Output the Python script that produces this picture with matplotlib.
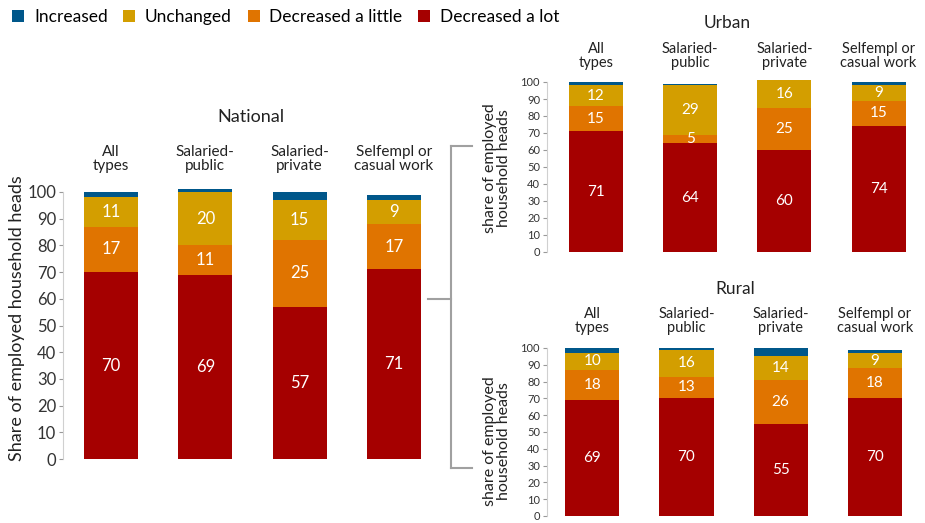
import matplotlib
matplotlib.use("Agg")
import matplotlib.pyplot as plt
from matplotlib.patches import Patch
from matplotlib.lines import Line2D
from matplotlib.transforms import blended_transform_factory
import numpy as np

plt.rcParams['font.family'] = ['Lato', 'DejaVu Sans']

categories = ["All\ntypes", "Salaried-\npublic", "Salaried-\nprivate", "Selfempl or\ncasual work"]
series_names = ["Decreased a lot", "Decreased a little", "Unchanged", "Increased"]
legend_order = ["Increased", "Unchanged", "Decreased a little", "Decreased a lot"]
colors = {
    "Increased": "#00578A",
    "Unchanged": "#D39E00",
    "Decreased a little": "#E07400",
    "Decreased a lot": "#A50000",
}

national = {
    "Decreased a lot": [70, 69, 57, 71],
    "Decreased a little": [17, 11, 25, 17],
    "Unchanged": [11, 20, 15, 9],
    "Increased": [2, 1, 3, 2],
}
urban = {
    "Decreased a lot": [71, 64, 60, 74],
    "Decreased a little": [15, 5, 25, 15],
    "Unchanged": [12, 29, 16, 9],
    "Increased": [2, 1, 0, 2],
}
rural = {
    "Decreased a lot": [69, 70, 55, 70],
    "Decreased a little": [18, 13, 26, 18],
    "Unchanged": [10, 16, 14, 9],
    "Increased": [3, 1, 5, 2],
}

W, H = 925, 523
fig = plt.figure(figsize=(W / 100, H / 100), dpi=100)


def add_ax_px(left, top, width, height):
    return fig.add_axes([left / W, 1 - (top + height) / H, width / W, height / H])


def fy(ypx):
    return 1 - ypx / H


def fx(xpx):
    return xpx / W


def draw_panel(ax, data, xlim, ylim, tick_fs, val_fs, cat_y, cat_fs, title, title_xy, title_fs):
    x = np.arange(len(categories))
    bottom = np.zeros(len(categories))
    for name in series_names:
        vals = np.array(data[name], dtype=float)
        ax.bar(x, vals, bottom=bottom, width=0.575, color=colors[name], linewidth=0)
        if name != "Increased":
            for xi, b, v in zip(x, bottom, vals):
                if v > 0:
                    ax.text(xi, b + v / 2, f"{v:.0f}", ha="center", va="center",
                            color="white", fontsize=val_fs)
        bottom += vals
    ax.set_xlim(*xlim)
    ax.set_ylim(*ylim)
    ax.set_yticks(np.arange(0, 101, 10))
    ax.set_xticks([])
    for s in ["top", "right", "bottom"]:
        ax.spines[s].set_visible(False)
    ax.spines["left"].set_bounds(0, 100)
    ax.spines["left"].set_color("#d0d0d0")
    ax.tick_params(axis="y", labelsize=tick_fs, colors="#333333", length=3,
                   color="#999999", pad=2)
    tr = blended_transform_factory(ax.transData, fig.transFigure)
    for xi, c in zip(x, categories):
        ax.text(xi, fy(cat_y), c, transform=tr, ha="center", va="center",
                fontsize=cat_fs, color="#222222", linespacing=1.0)
    fig.text(fx(title_xy[0]), fy(title_xy[1]), title, ha="center", va="center",
             fontsize=title_fs, color="#222222")


# National panel
ax_n = add_ax_px(63, 459 - 105 * 2.67, 378, 105 * 2.67)
draw_panel(ax_n, national, (-0.51, 3.5), (0, 105), 12, 12, 159, 11, "National", (251, 117), 13)
fig.text(fx(17), fy(318), "Share of employed household heads", rotation=90,
         ha="center", va="center", fontsize=13, color="#222222")

# Urban panel
ax_u = add_ax_px(547, 252 - 104 * 1.7, 374, 104 * 1.7)
draw_panel(ax_u, urban, (-0.52, 3.45), (0, 104), 8, 11, 56, 10.5, "Urban", (727, 23), 12.5)
fig.text(fx(497), fy(168), "share of employed\nhousehold heads", rotation=90,
         ha="center", va="center", fontsize=11.5, color="#222222", linespacing=1.0)

# Rural panel
ax_r = add_ax_px(547, 516 - 104 * 1.68, 374, 104 * 1.68)
draw_panel(ax_r, rural, (-0.48, 3.49), (0, 104), 8, 11, 321, 10.5, "Rural", (735, 289), 12.5)
fig.text(fx(497), fy(441), "share of employed\nhousehold heads", rotation=90,
         ha="center", va="center", fontsize=11.5, color="#222222", linespacing=1.0)

# Bracket linking the national panel to the urban and rural panels
bracket = [
    ([428, 451], [299, 299]),
    ([451, 451], [146, 468]),
    ([451, 472], [146, 146]),
    ([451, 472], [468, 468]),
]
for xs, ys in bracket:
    fig.add_artist(Line2D([fx(v) for v in xs], [fy(v) for v in ys],
                          transform=fig.transFigure, color="#a0a0a0", linewidth=1.5))

handles = [Patch(facecolor=colors[n], edgecolor="none", label=n) for n in legend_order]
fig.legend(handles=handles, loc="upper left", bbox_to_anchor=(0.002, 1.002), ncol=4,
           frameon=False, fontsize=12.5, handlelength=0.7, handleheight=0.7,
           handletextpad=0.55, columnspacing=0.9, borderaxespad=0.2)

fig.savefig("out.png", dpi=100)
